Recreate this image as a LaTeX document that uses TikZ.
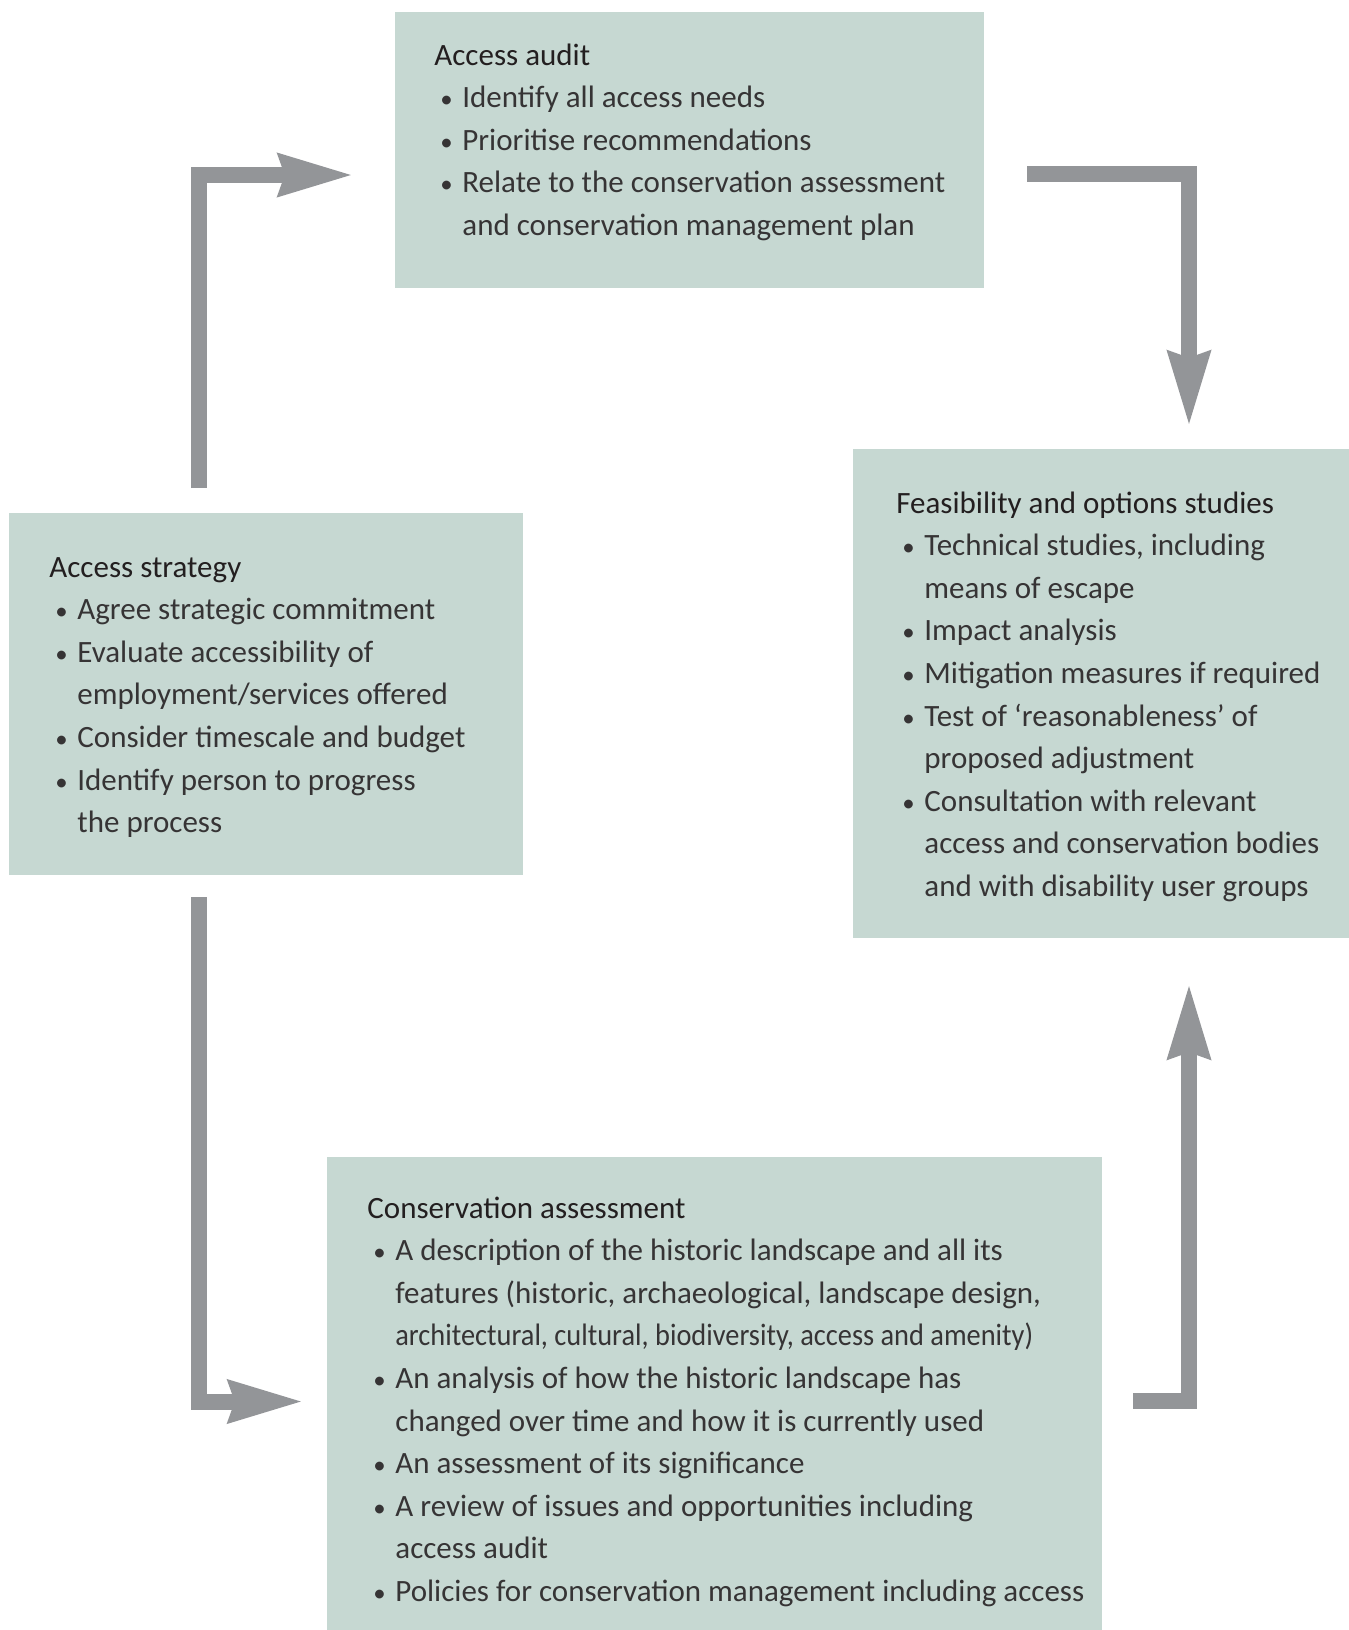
\documentclass[tikz,border=0pt]{standalone}
\usepackage{fontspec}
\setmainfont{Carlito}
\newfontfamily\narrowfont[FakeStretch=0.915]{Carlito}
\usetikzlibrary{arrows.meta}

\definecolor{panelfill}{HTML}{C6D8D2}
\definecolor{flowgray}{HTML}{939598}
\definecolor{titleink}{HTML}{231F20}
\definecolor{itemink}{HTML}{363435}

\newcommand{\itm}{\makebox[14pt][l]{\hspace*{3pt}\scalebox{0.8}{\textbullet}}}
\newcommand{\cnt}{\hspace*{14pt}}
\newcommand{\boxtitle}[1]{\textcolor{titleink}{#1}}

\tikzset{
	panel/.style={fill=panelfill, inner sep=0pt, outer sep=0pt, anchor=north west},
	paneltext/.style={inner sep=0pt, anchor=base west, text=itemink,
		font=\fontsize{15.5}{21.3}\selectfont},
	flow/.style={draw=flowgray, line width=8pt,
		-{Stealth[length=37pt, width=20pt, inset=2.5pt]}}
}

\begin{document}
\begin{tikzpicture}[x=0.5pt,y=-0.5pt]
\useasboundingbox (0,0) rectangle (1349,1630);

% the four panels
\node[panel, minimum width=294.5pt, minimum height=138pt] (audit) at (395,12) {};
\node[panel, minimum width=248pt, minimum height=244.5pt] (feasib) at (853,449) {};
\node[panel, minimum width=257pt, minimum height=181pt] (strategy) at (9,513) {};
\node[panel, minimum width=387.5pt, minimum height=236.5pt] (conserv) at (327,1157) {};

% texts
\node[paneltext] (audittext) at (434,65) {\begin{tabular}[t]{@{}l@{}}
\boxtitle{Access audit}\\
\itm Identify all access needs\\
\itm Prioritise recommendations\\
\itm Relate to the conservation assessment\\
\cnt and conservation management plan
\end{tabular}};

\node[paneltext] (feasibtext) at (896,513) {\begin{tabular}[t]{@{}l@{}}
\boxtitle{Feasibility and options studies}\\
\itm Technical studies, including\\
\cnt means of escape\\
\itm Impact analysis\\
\itm Mitigation measures if required\\
\itm Test of ‘reasonableness’ of\\
\cnt proposed adjustment\\
\itm Consultation with relevant\\
\cnt access and conservation bodies\\
\cnt and with disability user groups
\end{tabular}};

\node[paneltext] (strategytext) at (49,577) {\begin{tabular}[t]{@{}l@{}}
\boxtitle{Access strategy}\\
\itm Agree strategic commitment\\
\itm Evaluate accessibility of\\
\cnt employment/services offered\\
\itm Consider timescale and budget\\
\itm Identify person to progress\\
\cnt the process
\end{tabular}};

\node[paneltext] (conservtext) at (367,1218) {\begin{tabular}[t]{@{}l@{}}
\boxtitle{Conservation assessment}\\
\itm A description of the historic landscape and all its\\
\cnt features (historic, archaeological, landscape design,\\
\cnt {\narrowfont architectural, cultural, biodiversity, access and amenity)}\\
\itm An analysis of how the historic landscape has\\
\cnt changed over time and how it is currently used\\
\itm An assessment of its significance\\
\itm A review of issues and opportunities including\\
\cnt access audit\\
\itm Policies for conservation management including access
\end{tabular}};

% arrow ends
\coordinate (s1) at (198.5,488);  \coordinate (e1) at (354,175);
\coordinate (s2) at (1027,174);   \coordinate (e2) at (1189,427);
\coordinate (s3) at (198.5,897);  \coordinate (e3) at (304,1401.5);
\coordinate (s4) at (1133,1401);  \coordinate (e4) at (1189,983);

\draw[flow] (s1) |- (e1);
\draw[flow] (s2) -| (e2);
\draw[flow] (s3) |- (e3);
\draw[flow] (s4) -| (e4);
\end{tikzpicture}
\end{document}
